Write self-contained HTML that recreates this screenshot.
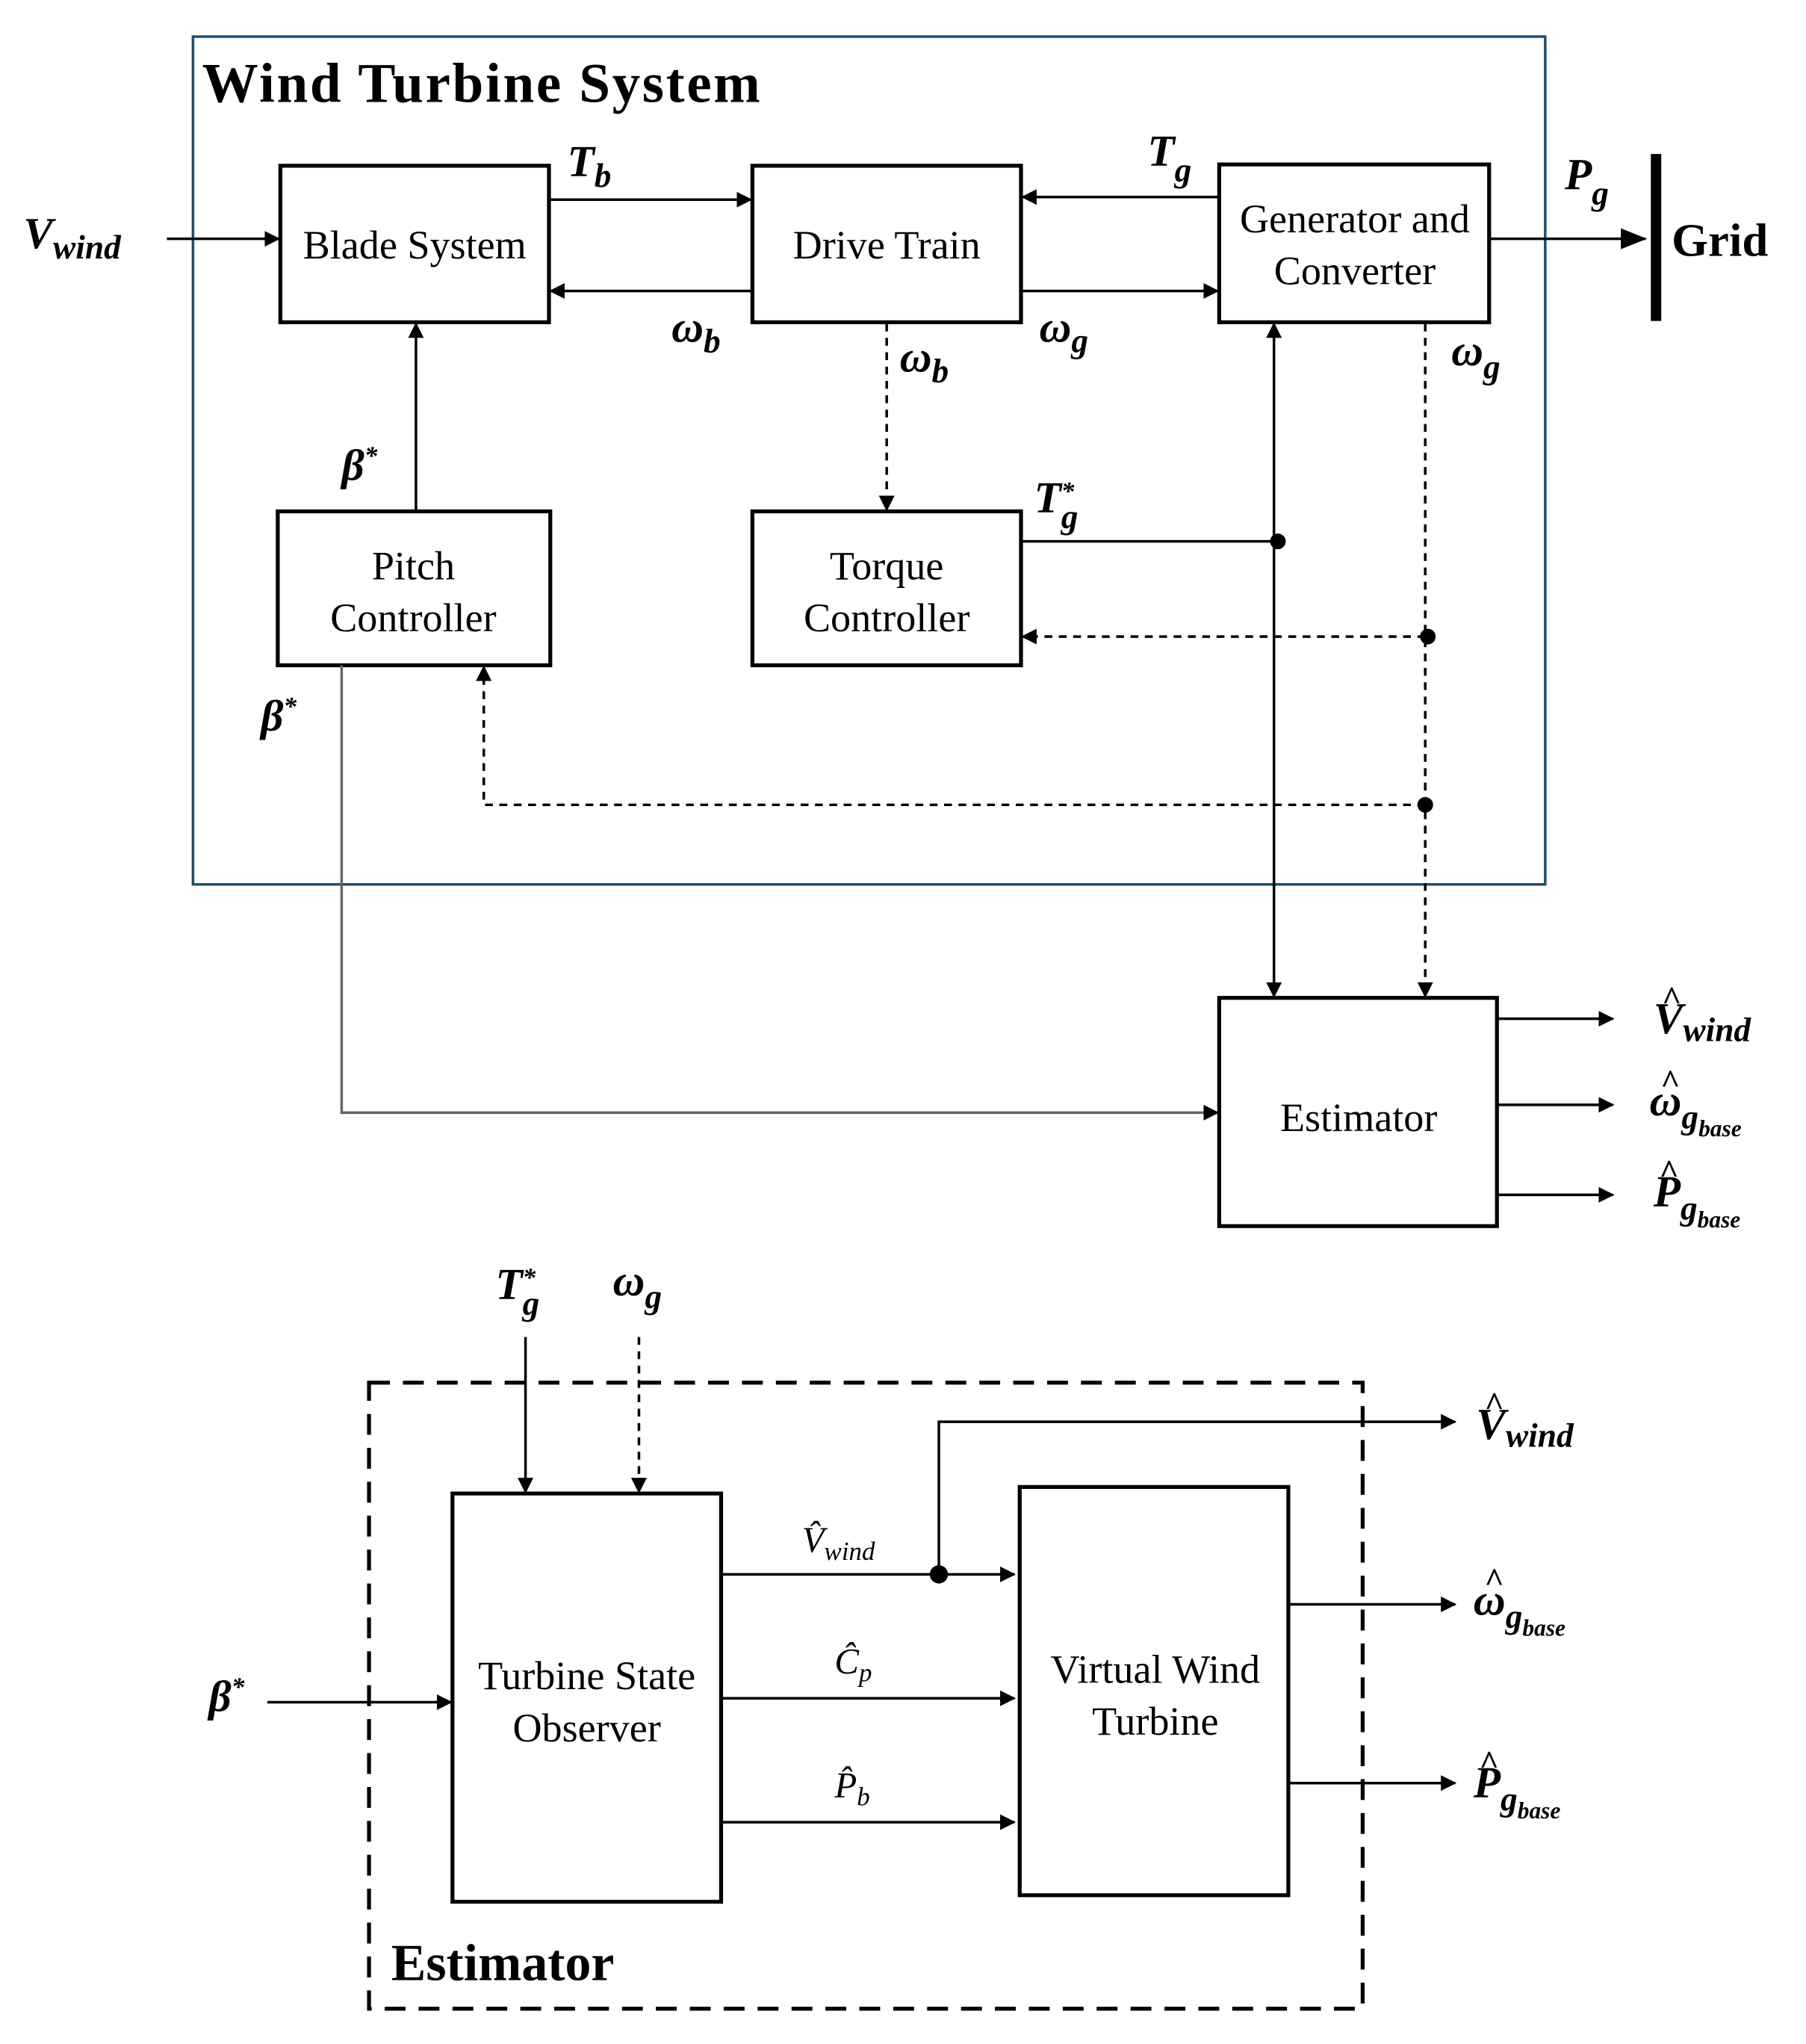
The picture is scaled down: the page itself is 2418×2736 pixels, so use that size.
<!DOCTYPE html>
<html><head><meta charset="utf-8"><style>html,body{margin:0;padding:0;background:#fff}svg{display:block}</style></head>
<body>
<svg width="2418" height="2736" viewBox="0 0 1385 1567" xmlns="http://www.w3.org/2000/svg" font-family="'Liberation Serif', serif">
<defs>
<marker id="a" markerWidth="12" markerHeight="12" refX="11" refY="6" orient="auto" markerUnits="userSpaceOnUse"><path d="M0,0 L12,6 L0,12 z" fill="#000"/></marker>
<marker id="b" markerWidth="20" markerHeight="16" refX="19" refY="8" orient="auto" markerUnits="userSpaceOnUse"><path d="M0,0 L20,8 L0,16 z" fill="#000"/></marker>
</defs>
<rect x="148" y="28" width="1037" height="650" fill="none" stroke="#1f4e6b" stroke-width="2"/>
<text x="155" y="78" font-size="43" font-weight="bold" textLength="428">Wind Turbine System</text>
<g fill="none" stroke="#000" stroke-width="3">
<rect x="215" y="127" width="206" height="120"/>
<rect x="577" y="127" width="206" height="120"/>
<rect x="935" y="126" width="207" height="121"/>
<rect x="213" y="392" width="209" height="118"/>
<rect x="577" y="392" width="206" height="118"/>
<rect x="935" y="765" width="213" height="175"/>
<rect x="347" y="1145" width="206" height="313"/>
<rect x="782" y="1140" width="206" height="313"/>
</g>
<rect x="1266" y="118" width="8" height="128" fill="#000"/>
<rect x="283" y="1060" width="762" height="480" fill="none" stroke="#000" stroke-width="3" stroke-dasharray="16,10"/>
<g stroke="#000" stroke-width="2" fill="none" marker-end="url(#a)">
<line x1="128" y1="183" x2="214" y2="183"/>
<line x1="421" y1="153" x2="576" y2="153"/>
<line x1="577" y1="223" x2="422" y2="223"/>
<line x1="935" y1="151" x2="784" y2="151"/>
<line x1="783" y1="223" x2="934" y2="223"/>
<line x1="319" y1="392" x2="319" y2="248"/>
<line x1="977" y1="400" x2="977" y2="248"/>
<line x1="977" y1="400" x2="977" y2="764"/>
<line x1="1148" y1="781" x2="1237" y2="781"/>
<line x1="1148" y1="847" x2="1237" y2="847"/>
<line x1="1148" y1="916" x2="1237" y2="916"/>
<line x1="403" y1="1025" x2="403" y2="1144"/>
<line x1="205" y1="1305" x2="346" y2="1305"/>
<line x1="553" y1="1207" x2="778" y2="1207"/>
<polyline points="720,1207 720,1090 1116,1090"/>
<line x1="553" y1="1302" x2="778" y2="1302"/>
<line x1="553" y1="1397" x2="778" y2="1397"/>
<line x1="988" y1="1230" x2="1116" y2="1230"/>
<line x1="988" y1="1367" x2="1116" y2="1367"/>
</g>
<line x1="1142" y1="183" x2="1262" y2="183" stroke="#000" stroke-width="2" marker-end="url(#b)"/>
<polyline points="262,510 262,853 934,853" stroke="#666" stroke-width="2" fill="none" marker-end="url(#a)"/>
<line x1="783" y1="415" x2="980" y2="415" stroke="#000" stroke-width="2"/>
<g stroke="#000" stroke-width="2" fill="none" stroke-dasharray="6,5" marker-end="url(#a)">
<line x1="680" y1="248" x2="680" y2="391"/>
<line x1="1093" y1="248" x2="1093" y2="764"/>
<line x1="1093" y1="488" x2="784" y2="488"/>
<polyline points="1093,617 371,617 371,511"/>
<line x1="490" y1="1025" x2="490" y2="1144"/>
</g>
<g fill="#000"><circle cx="980" cy="415" r="6"/><circle cx="1095" cy="488" r="6"/><circle cx="1093" cy="617" r="6"/><circle cx="720" cy="1207" r="7"/></g>
<g font-size="31" text-anchor="middle">
<text x="318" y="198">Blade System</text>
<text x="680" y="198">Drive Train</text>
<text x="1039" y="178">Generator and</text>
<text x="1039" y="218">Converter</text>
<text x="317" y="444">Pitch</text>
<text x="317" y="484">Controller</text>
<text x="680" y="444">Torque</text>
<text x="680" y="484">Controller</text>
<text x="1042" y="867">Estimator</text>
<text x="450" y="1295">Turbine State</text>
<text x="450" y="1335">Observer</text>
<text x="886" y="1290">Virtual Wind</text>
<text x="886" y="1330">Turbine</text>
</g>
<text x="1282" y="196" font-size="36" font-weight="bold">Grid</text>
<text x="300" y="1518" font-size="40" font-weight="bold">Estimator</text>
<g font-size="34" font-weight="bold" font-style="italic">
<text x="18" y="190">V<tspan font-size="26" dy="8">wind</tspan></text>
<text x="435" y="135">T<tspan font-size="26" dy="8">b</tspan></text>
<text x="515" y="262">ω<tspan font-size="26" dy="8">b</tspan></text>
<text x="880" y="127">T<tspan font-size="26" dy="12">g</tspan></text>
<text x="797" y="262">ω<tspan font-size="26" dy="8">g</tspan></text>
<text x="690" y="285">ω<tspan font-size="26" dy="8">b</tspan></text>
<text x="1200" y="145">P<tspan font-size="26" dy="12">g</tspan></text>
<text x="1113" y="280">ω<tspan font-size="26" dy="10">g</tspan></text>
<text x="262" y="368">β<tspan font-size="20" dy="-12">*</tspan></text>
<text x="200" y="560">β<tspan font-size="20" dy="-12">*</tspan></text>
<text x="793" y="393">T<tspan font-size="20" dy="-10">*</tspan><tspan font-size="26" dx="-10" dy="22">g</tspan></text>
<text x="1268" y="792">V<tspan font-size="26" dy="6">wind</tspan></text>
<text x="1265" y="855">ω<tspan font-size="26" dy="10">g<tspan font-size="18" dy="6">base</tspan></tspan></text>
<text x="1268" y="925">P<tspan font-size="26" dy="10">g<tspan font-size="18" dy="6">base</tspan></tspan></text>
<text x="380" y="996">T<tspan font-size="20" dy="-10">*</tspan><tspan font-size="26" dx="-10" dy="22">g</tspan></text>
<text x="470" y="993">ω<tspan font-size="26" dy="10">g</tspan></text>
<text x="160" y="1312">β<tspan font-size="20" dy="-12">*</tspan></text>
<text x="1132" y="1103">V<tspan font-size="26" dy="6">wind</tspan></text>
<text x="1130" y="1238">ω<tspan font-size="26" dy="10">g<tspan font-size="18" dy="6">base</tspan></tspan></text>
<text x="1130" y="1378">P<tspan font-size="26" dy="10">g<tspan font-size="18" dy="6">base</tspan></tspan></text>
</g>
<g font-size="26" font-weight="bold" text-anchor="middle">
<text x="1282" y="774">^</text>
<text x="1281" y="838">^</text>
<text x="1280" y="907">^</text>
<text x="1146" y="1085">^</text>
<text x="1146" y="1220">^</text>
<text x="1142" y="1360">^</text>
</g>
<g font-size="28" font-style="italic">
<text x="615" y="1190">V̂<tspan font-size="20" dy="6">wind</tspan></text>
<text x="640" y="1283">Ĉ<tspan font-size="20" dy="6">p</tspan></text>
<text x="640" y="1378">P̂<tspan font-size="20" dy="6">b</tspan></text>
</g>
</svg>
</body></html>
